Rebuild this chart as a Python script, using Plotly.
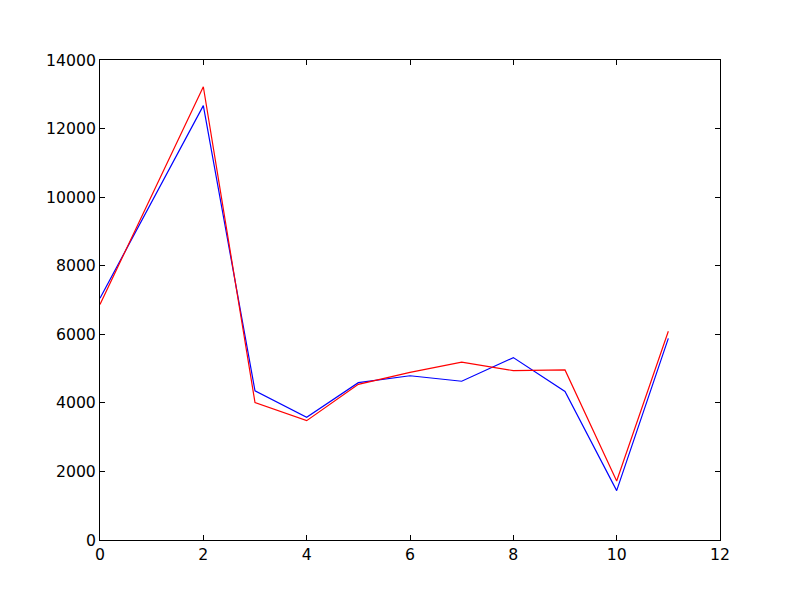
import plotly.graph_objects as go

x = list(range(12))
blue = [7050, 9880, 12670, 4350, 3580, 4590, 4790, 4630, 5320, 4330, 1440, 5880]
red = [6870, 10060, 13220, 4010, 3480, 4540, 4890, 5190, 4940, 4960, 1720, 6090]

fig = go.Figure()
fig.add_trace(go.Scatter(x=x, y=blue, mode="lines", line=dict(color="blue", width=1.2)))
fig.add_trace(go.Scatter(x=x, y=red, mode="lines", line=dict(color="red", width=1.2)))

axis = dict(showgrid=False, zeroline=False, showline=True, linecolor="black", linewidth=1,
            mirror="ticks", ticks="inside", ticklen=5, tickcolor="black",
            tickfont=dict(family="DejaVu Sans", size=15.7, color="black"))
fig.update_xaxes(range=[0, 12], dtick=2, **axis)
fig.update_yaxes(range=[0, 14000], dtick=2000, tickformat="d", **axis)
# page body has an 8px margin, so the figure is a bit smaller than the window
fig.update_layout(width=792, height=592, showlegend=False,
                  margin=dict(l=92, r=80, t=52, b=60),
                  plot_bgcolor="white", paper_bgcolor="white")
fig.write_html("out.html")
